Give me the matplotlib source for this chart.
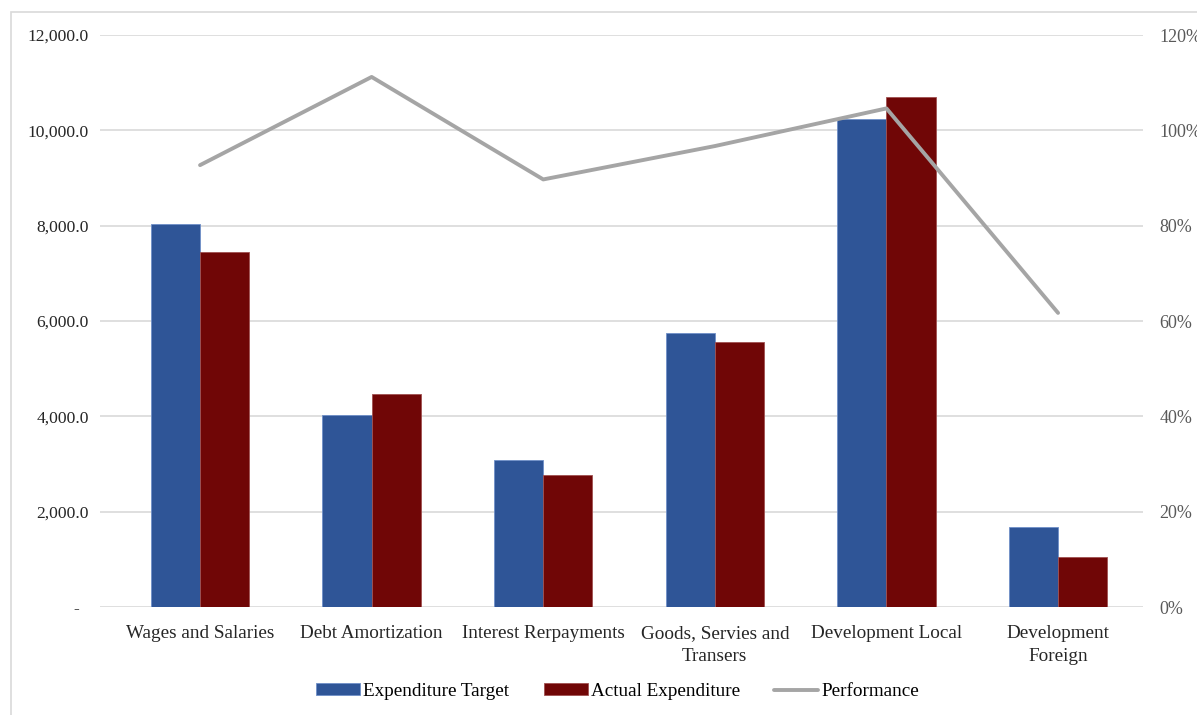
import numpy as np
import matplotlib
matplotlib.use("Agg")
import matplotlib.pyplot as plt
from matplotlib.patches import Rectangle
from matplotlib.ticker import FuncFormatter

plt.rcParams['font.family'] = ['Liberation Serif', 'DejaVu Serif']
plt.rcParams['font.size'] = 13

categories = ["Wages and Salaries", "Debt Amortization", "Interest Rerpayments",
              "Goods, Servies and\nTransers", "Development Local", "Development\nForeign"]
target = [8030, 4020, 3085, 5740, 10230, 1685]
actual = [7450, 4470, 2770, 5550, 10690, 1045]
performance = [92.7, 111.2, 89.7, 96.7, 104.6, 61.7]

blue = "#2F5597"
red = "#700606"
grey = "#A5A5A5"

fig = plt.figure(figsize=(11.97, 7.15), dpi=100)
# chart frame, runs past the right and bottom edges
fig.patches.append(Rectangle((11 / 1197, -0.05), 1.2, 1 - 12 / 715 + 0.05,
                             transform=fig.transFigure, fill=False,
                             edgecolor="#D9D9D9", linewidth=1.2))

ax = fig.add_axes([100 / 1197, 1 - 607 / 715, 1043 / 1197, 572 / 715])
x = np.arange(len(categories))
w = 0.287
ax.bar(x - w / 2, target, w, color=blue, edgecolor="#6F8FC8", linewidth=0.6,
       label="Expenditure Target", zorder=3)
ax.bar(x + w / 2, actual, w, color=red, edgecolor="#A05050", linewidth=0.6,
       label="Actual Expenditure", zorder=3)

ax.set_xlim(-0.583, 5.495)
ax.set_ylim(0, 12000)
ax.set_yticks(np.arange(0, 12001, 2000))
ax.yaxis.set_major_formatter(FuncFormatter(
    lambda v, p: "-  " if v == 0 else f"{v:,.1f}"))
ax.set_xticks(x)
ax.set_xticklabels(categories, linespacing=1.45, fontsize=13.8)
ax.tick_params(axis="both", length=0, colors="#262626")
ax.tick_params(axis="y", labelsize=12.6, pad=8)
ax.tick_params(axis="x", pad=13)
ax.grid(axis="y", color="#D9D9D9", linewidth=1.2, zorder=0)
for s in ax.spines.values():
    s.set_visible(False)

ax2 = ax.twinx()
ax2.plot(x, performance, color=grey, linewidth=2.8, label="Performance",
         solid_capstyle="round", zorder=4)
ax2.set_ylim(0, 120)
ax2.set_yticks(np.arange(0, 121, 20))
ax2.yaxis.set_major_formatter(FuncFormatter(lambda v, p: f"{v:.0f}%"))
ax2.tick_params(axis="y", length=0, colors="#595959", labelsize=13, pad=12)
for s in ax2.spines.values():
    s.set_visible(False)

h1, l1 = ax.get_legend_handles_labels()
h2, l2 = ax2.get_legend_handles_labels()
fig.legend(h1 + h2, l1 + l2, loc="center", bbox_to_anchor=(0.516, 0.033),
           ncol=3, frameon=False, fontsize=13.8, handlelength=2.3,
           handleheight=0.55, handletextpad=0.15, columnspacing=1.8)

fig.savefig("out.png", dpi=100)
